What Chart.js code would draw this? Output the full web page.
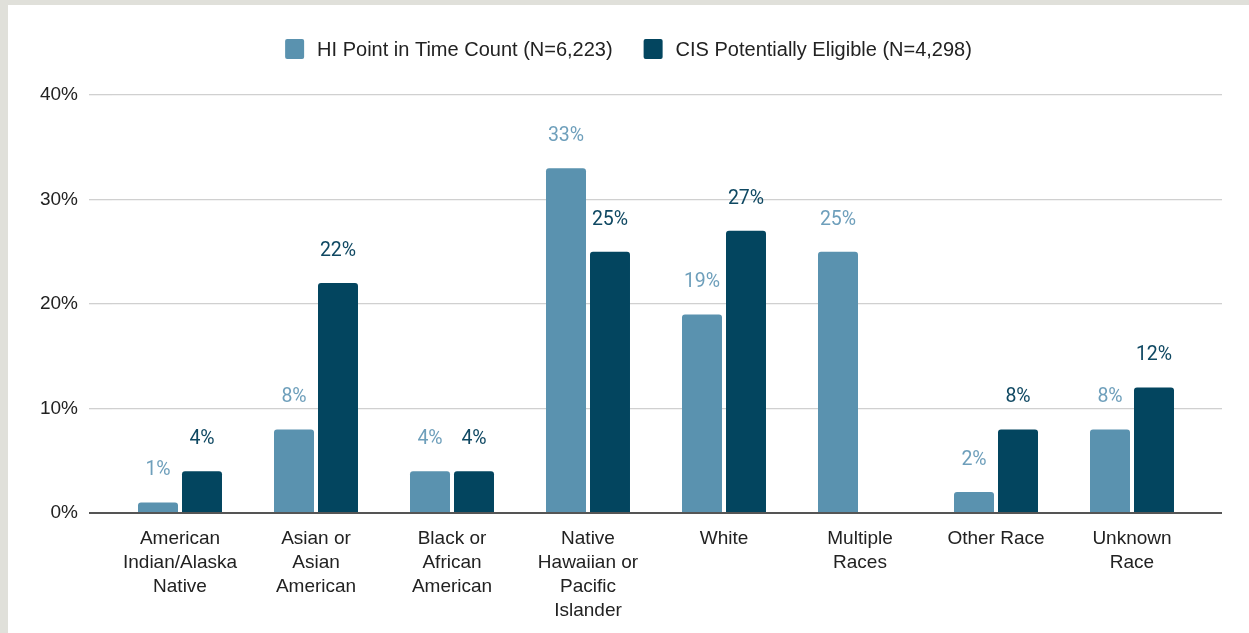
<!DOCTYPE html>
<html>
<head>
<meta charset="utf-8">
<script src="https://cdn.jsdelivr.net/npm/chart.js@4/dist/chart.umd.min.js"></script>
<style>
  html, body { margin: 0; padding: 0; background: #e0e0da; }
  body { width: 1249px; height: 633px; position: relative; overflow: hidden; }
  #wrap { position: absolute; left: 8px; top: 5px; width: 1241px; height: 628px; background: #ffffff; }
  canvas { display: block; }
</style>
</head>
<body>
<div id="wrap"><canvas id="c" width="1241" height="628"></canvas></div>
<script>
// Race categories (multi-line tick labels)
const categories = [
  ['American', 'Indian/Alaska', 'Native'],
  ['Asian or', 'Asian', 'American'],
  ['Black or', 'African', 'American'],
  ['Native', 'Hawaiian or', 'Pacific', 'Islander'],
  ['White'],
  ['Multiple', 'Races'],
  ['Other Race'],
  ['Unknown', 'Race']
];

const seriesNames = ['HI Point in Time Count (N=6,223)', 'CIS Potentially Eligible (N=4,298)'];

// Percent of each population by race
const hiPointInTime = [1, 8, 4, 33, 19, 25, 2, 8];
const cisEligible   = [4, 22, 4, 25, 27, null, 8, 12];

const yTicks = [0, 10, 20, 30, 40];

const barColors   = ['#5a92af', '#03455f'];
const labelColors = ['#6e9fbb', '#0f4862'];
const labelWeights = ['400', '400'];

const gridColor = (ctx) => (ctx.tick && ctx.tick.value === 0) ? '#555555' : '#d0d0d0';
const gridWidth = (ctx) => (ctx.tick && ctx.tick.value === 0) ? 2 : 1.3;

// Value labels above each bar
const valueLabels = {
  id: 'valueLabels',
  afterDatasetsDraw(chart) {
    const ctx = chart.ctx;
    ctx.save();
    ctx.textAlign = 'center';
    ctx.textBaseline = 'middle';
    chart.data.datasets.forEach((ds, di) => {
      const meta = chart.getDatasetMeta(di);
      ctx.fillStyle = labelColors[di];
      ctx.font = labelWeights[di] + ' 19.5px Roboto';
      meta.data.forEach((bar, i) => {
        const v = ds.data[i];
        if (v === null || v === undefined) return;
        ctx.fillText(v + '%', bar.x, bar.y - 32);
      });
    });
    ctx.restore();
  }
};

// Legend row centred above the plot
const topLegend = {
  id: 'topLegend',
  afterDraw(chart) {
    const ctx = chart.ctx;
    ctx.save();
    ctx.font = '20px "Liberation Sans", Arial, sans-serif';
    ctx.textBaseline = 'middle';
    const box = 19, boxH = 20, gapText = 13, gapItem = 31;
    const widths = seriesNames.map(n => ctx.measureText(n).width);
    const total = widths.reduce((a, w) => a + box + gapText + w, 0) + gapItem * (seriesNames.length - 1);
    let x = chart.width / 2 - total / 2;
    const cy = 44;
    seriesNames.forEach((name, i) => {
      ctx.fillStyle = barColors[i];
      ctx.beginPath();
      ctx.roundRect(x, cy - boxH / 2, box, boxH, 2);
      ctx.fill();
      x += box + gapText;
      ctx.fillStyle = '#222222';
      ctx.fillText(name, x, cy + 1);
      x += widths[i] + gapItem;
    });
    ctx.restore();
  }
};

new Chart(document.getElementById('c'), {
  type: 'bar',
  data: {
    labels: categories,
    datasets: [
      { label: seriesNames[0], data: hiPointInTime, backgroundColor: barColors[0],
        borderRadius: { topLeft: 3, topRight: 3 }, borderSkipped: 'bottom' },
      { label: seriesNames[1], data: cisEligible, backgroundColor: barColors[1],
        borderRadius: { topLeft: 3, topRight: 3 }, borderSkipped: 'bottom' }
    ]
  },
  options: {
    responsive: false,
    animation: false,
    layout: { padding: { top: 90, right: 27, bottom: 0, left: 0 } },
    datasets: { bar: { categoryPercentage: 0.647, barPercentage: 0.909 } },
    plugins: {
      legend: { display: false },
      tooltip: { enabled: false }
    },
    scales: {
      x: {
        offset: true,
        grid: { display: false, drawTicks: false },
        border: { display: false },
        ticks: {
          color: '#222222',
          padding: 14,
          maxRotation: 0,
          autoSkip: false,
          font: { family: '"Liberation Sans", Arial, sans-serif', size: 19, lineHeight: 1.26 }
        },
        afterFit(scale) { scale.height = 120; }
      },
      y: {
        min: 0, max: 40,
        afterBuildTicks(scale) { scale.ticks = yTicks.map(v => ({ value: v })); },
        grid: { color: gridColor, lineWidth: gridWidth, drawTicks: true, tickLength: 23 },
        border: { display: false },
        ticks: {
          color: '#222222',
          padding: 11,
          callback: (v) => v + '%',
          font: { family: '"Liberation Sans", Arial, sans-serif', size: 19 }
        },
        afterFit(scale) { scale.width = 104; }
      },
      y2: {
        position: 'right',
        min: 0, max: 40,
        afterBuildTicks(scale) { scale.ticks = yTicks.map(v => ({ value: v })); },
        grid: { color: gridColor, lineWidth: gridWidth, drawOnChartArea: false, drawTicks: true, tickLength: 22 },
        border: { display: false },
        ticks: { display: false },
        afterFit(scale) { scale.width = 22; }
      }
    }
  },
  plugins: [valueLabels, topLegend]
});
</script>
</body>
</html>
